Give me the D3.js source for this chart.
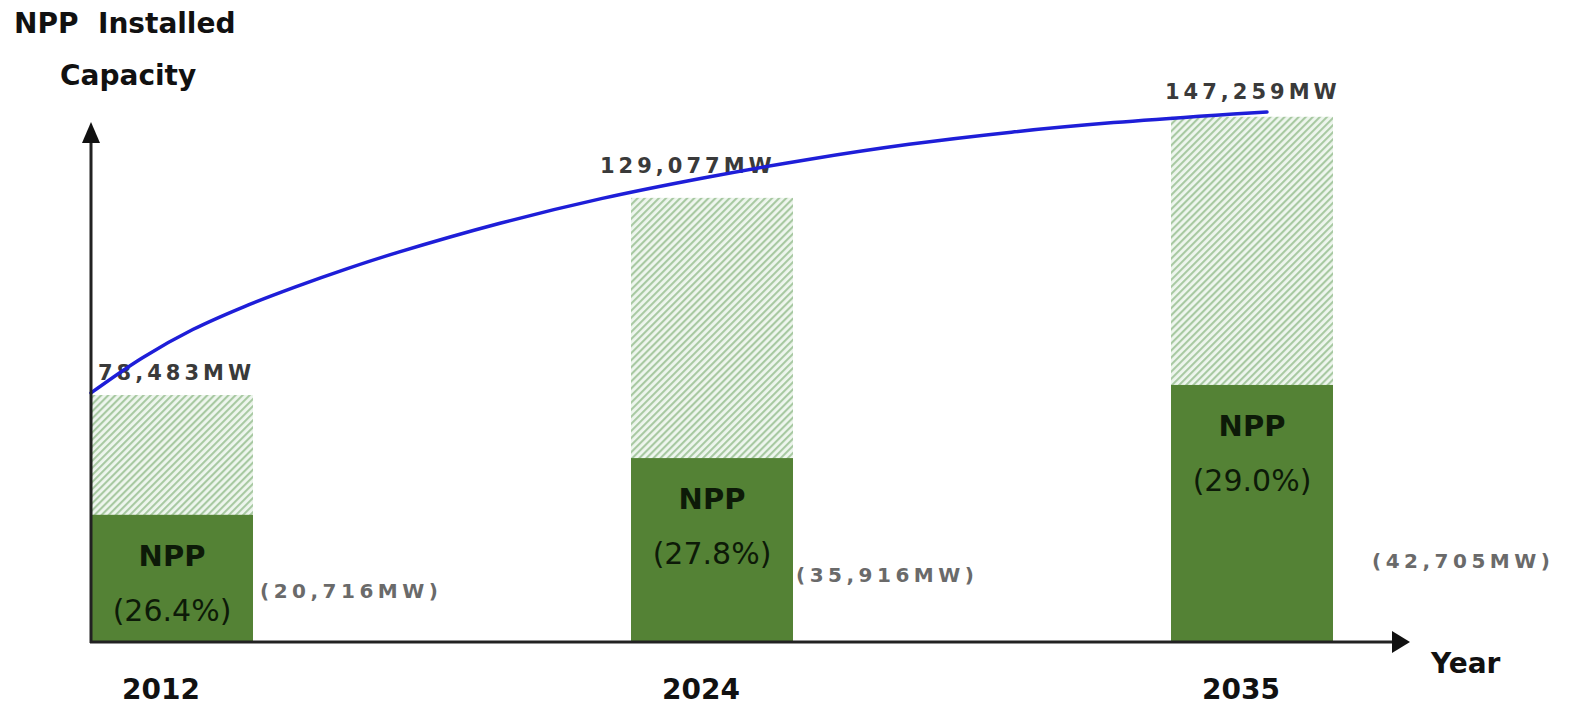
<!DOCTYPE html>
<html>
<head>
<meta charset="utf-8">
<script src="https://cdn.jsdelivr.net/npm/d3@7"></script>
<style>
  body { margin: 0; background: #fff; }
  svg { display: block; }
  text { font-family: "DejaVu Sans", "Noto Sans", sans-serif; }
</style>
</head>
<body>
<svg id="chart" width="1576" height="708"></svg>
<script>
// labelled values
var years = ["2012", "2024", "2035"];
var totalMW = [78483, 129077, 147259];
var nppMW = [20716, 35916, 42705];
var nppShare = [26.4, 27.8, 29.0];

// the figure is not to scale: heights as drawn, in % of the axis
var totalDrawn = [46.6, 83.8, 99.1];
var nppDrawn = [24.0, 34.7, 48.5];

// blue capacity curve (same units)
var curveYears = [2012, 2013, 2014, 2015, 2016, 2017, 2018, 2020, 2022, 2024, 2026, 2028, 2030, 2032, 2034, 2035];
var curveLevel = [47.0, 53.6, 59.0, 63.3, 67.0, 70.4, 73.5, 79.0, 83.7, 87.6, 91.0, 93.9, 96.2, 98.0, 99.4, 100];

var svg = d3.select("#chart");
var baseY = 642, axisX = 91;

var y = d3.scaleLinear().domain([0, 100]).range([baseY, 112]);
var xBand = d3.scaleBand().domain(years).range([axisX, 1333]).paddingInner(0.7).paddingOuter(0);
var xYear = d3.scaleLinear().domain([2012, 2035]).range([axisX, 1267]);

var fmt = d3.format(",");
var pct = d3.format(".1f");

// hatch for the total capacity part
var defs = svg.append("defs");
var pat = defs.append("pattern")
	.attr("id", "hatch")
	.attr("patternUnits", "userSpaceOnUse")
	.attr("width", 5)
	.attr("height", 5)
	.attr("patternTransform", "rotate(45)");
pat.append("rect").attr("width", 5).attr("height", 5).attr("fill", "#eef6ee");
pat.append("line")
	.attr("x1", 1).attr("y1", 0).attr("x2", 1).attr("y2", 5)
	.attr("stroke", "#a8c9a2")
	.attr("stroke-width", 2.2);

svg.selectAll("rect.total").data(years).enter()
	.append("rect")
	.classed("total", true)
	.attr("x", function(d) { return xBand(d); })
	.attr("width", xBand.bandwidth())
	.attr("y", function(d, i) { return y(totalDrawn[i]); })
	.attr("height", function(d, i) { return baseY - y(totalDrawn[i]); })
	.attr("fill", "url(#hatch)");

svg.selectAll("rect.npp").data(years).enter()
	.append("rect")
	.classed("npp", true)
	.attr("x", function(d) { return xBand(d); })
	.attr("width", xBand.bandwidth())
	.attr("y", function(d, i) { return y(nppDrawn[i]); })
	.attr("height", function(d, i) { return baseY - y(nppDrawn[i]); })
	.attr("fill", "#548235");

// text inside green bars
svg.selectAll("text.nppName").data(years).enter()
	.append("text")
	.attr("x", function(d) { return xBand(d) + xBand.bandwidth() / 2; })
	.attr("y", function(d, i) { return y(nppDrawn[i]) + 51; })
	.attr("text-anchor", "middle")
	.attr("font-size", 29)
	.attr("font-weight", "bold")
	.attr("fill", "#0d1a08")
	.text("NPP");

svg.selectAll("text.nppPct").data(years).enter()
	.append("text")
	.attr("x", function(d) { return xBand(d) + xBand.bandwidth() / 2; })
	.attr("y", function(d, i) { return y(nppDrawn[i]) + 106; })
	.attr("text-anchor", "middle")
	.attr("font-size", 30)
	.attr("fill", "#0d1a08")
	.text(function(d, i) { return "(" + pct(nppShare[i]) + "%)"; });

// NPP MW next to the bars
var mwShift = [[7, -44], [3, -60], [39, -74]];
svg.selectAll("text.nppMW").data(years).enter()
	.append("text")
	.attr("x", function(d, i) { return xBand(d) + xBand.bandwidth() + mwShift[i][0]; })
	.attr("y", function(d, i) { return baseY + mwShift[i][1]; })
	.attr("font-size", 20)
	.attr("font-weight", "bold")
	.attr("letter-spacing", 4.5)
	.attr("fill", "#6a6a6a")
	.text(function(d, i) { return "(" + fmt(nppMW[i]) + "MW)"; });

// total capacity labels
var totShift = [[7, -15], [-31, -25], [-6, -18]];
svg.selectAll("text.totMW").data(years).enter()
	.append("text")
	.attr("x", function(d, i) { return xBand(d) + totShift[i][0]; })
	.attr("y", function(d, i) { return y(totalDrawn[i]) + totShift[i][1]; })
	.attr("font-size", 21)
	.attr("font-weight", "bold")
	.attr("letter-spacing", 4)
	.attr("fill", "#3a3a3a")
	.text(function(d, i) { return fmt(totalMW[i]) + "MW"; });

// blue curve
var line = d3.line()
	.x(function(d) { return xYear(d); })
	.y(function(d, i) { return y(curveLevel[i]); })
	.curve(d3.curveCatmullRom.alpha(0.5));

svg.append("path")
	.datum(curveYears)
	.attr("d", line)
	.attr("fill", "none")
	.attr("stroke", "#1e1ed8")
	.attr("stroke-width", 3.5)
	.attr("stroke-linecap", "round");

// axes with arrow heads
svg.append("line")
	.attr("x1", axisX).attr("y1", baseY + 1)
	.attr("x2", axisX).attr("y2", 135)
	.attr("stroke", "#222").attr("stroke-width", 3);
svg.append("path")
	.attr("d", "M" + axisX + ",122 L" + (axisX + 9) + ",143 L" + (axisX - 9) + ",143 Z")
	.attr("fill", "#111");

svg.append("line")
	.attr("x1", axisX - 1).attr("y1", baseY)
	.attr("x2", 1398).attr("y2", baseY)
	.attr("stroke", "#222").attr("stroke-width", 3);
svg.append("path")
	.attr("d", "M1410," + baseY + " L1392," + (baseY - 11) + " L1392," + (baseY + 11) + " Z")
	.attr("fill", "#111");

// year labels
var xAxis = d3.axisBottom(xBand).tickSize(0).tickPadding(37);
var gx = svg.append("g")
	.attr("transform", "translate(-11," + baseY + ")")
	.call(xAxis);
gx.select(".domain").remove();
gx.selectAll("text")
	.attr("font-family", "DejaVu Sans, sans-serif")
	.attr("font-size", 28)
	.attr("font-weight", "bold")
	.attr("fill", "#111");

// axis titles
svg.append("text")
	.attr("x", 14).attr("y", 33)
	.attr("font-size", 28).attr("font-weight", "bold").attr("fill", "#111")
	.attr("xml:space", "preserve")
	.text("NPP  Installed");
svg.append("text")
	.attr("x", 60).attr("y", 85)
	.attr("font-size", 28).attr("font-weight", "bold").attr("fill", "#111")
	.text("Capacity");
svg.append("text")
	.attr("x", 1431).attr("y", 673)
	.attr("font-size", 28).attr("font-weight", "bold").attr("fill", "#111")
	.text("Year");
</script>
</body>
</html>
